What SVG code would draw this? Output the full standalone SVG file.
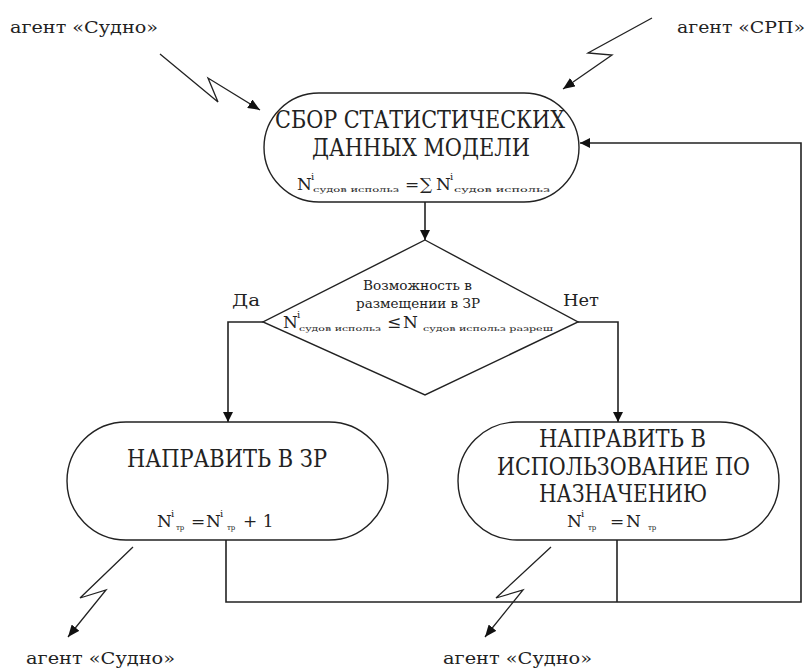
<svg xmlns="http://www.w3.org/2000/svg" width="807" height="668" viewBox="0 0 807 668">
<defs>
<marker id="ah" viewBox="0 0 10 10" refX="10" refY="5" markerWidth="10" markerHeight="10" markerUnits="userSpaceOnUse" orient="auto">
<path d="M0,0 L10,5 L0,10 z" fill="#111"/>
</marker>
<marker id="ahl" viewBox="0 0 12 10" refX="12" refY="5" markerWidth="12" markerHeight="10" markerUnits="userSpaceOnUse" orient="auto">
<path d="M0,0 L12,5 L0,10 z" fill="#111"/>
</marker>
</defs>
<style>
.shape{fill:#fff;stroke:#222;stroke-width:1.4}
.line{fill:none;stroke:#222;stroke-width:1.6}
.bolt{fill:none;stroke:#222;stroke-width:1.3}
.t{font-family:'DejaVu Serif','Liberation Serif',serif;fill:#222}
.big{font-size:24px}
.lbl{font-size:16px}
.mid{font-size:12px}
.f{font-size:17px}
.sup{font-size:10px}
.sub{font-size:7px}
</style>
<rect width="807" height="668" fill="#fff"/>

<g id="connectors">
<path class="line" d="M425,202 V240" marker-end="url(#ah)"/>
<path class="line" d="M263,322 H228 V422" marker-end="url(#ah)"/>
<path class="line" d="M578,322 H618 V422" marker-end="url(#ah)"/>
<path class="line" d="M226,540 V602 H801 V143 H580" marker-end="url(#ah)"/>
<path class="line" d="M617,540 V602"/>
<path class="bolt" d="M160,54 L218,102 L208,78 L260,110" marker-end="url(#ahl)"/>
<path class="bolt" d="M652,18 L588,53 L612,55 L563,89" marker-end="url(#ahl)"/>
<path class="bolt" d="M133,547 L80,598 L106,590 L68,637" marker-end="url(#ahl)"/>
<path class="bolt" d="M551,547 L496,598 L523,590 L485,637" marker-end="url(#ahl)"/>
</g>

<g id="node-collect">
<rect class="shape" x="264" y="93" width="315" height="109" rx="55" ry="54.5"/>
<text class="t big" x="275" y="128" textLength="290" lengthAdjust="spacingAndGlyphs">СБОР СТАТИСТИЧЕСКИХ</text>
<text class="t big" x="312" y="156" textLength="218" lengthAdjust="spacingAndGlyphs">ДАННЫХ МОДЕЛИ</text>
<text class="t f" x="297" y="190">N</text>
<text class="t sup" x="311" y="180">i</text>
<text class="t sub" x="313" y="192" textLength="86" lengthAdjust="spacingAndGlyphs">судов использ</text>
<text class="t f" x="405" y="190">=</text>
<text class="t f" x="420" y="190">∑</text>
<text class="t f" x="436" y="190">N</text>
<text class="t sup" x="450" y="180">i</text>
<text class="t sub" x="454" y="192" textLength="96" lengthAdjust="spacingAndGlyphs">судов использ</text>
</g>

<g id="node-decision">
<polygon class="shape" points="425,240 578,322 425,395 263,322"/>
<text class="t mid" x="363" y="290" textLength="109" lengthAdjust="spacingAndGlyphs">Возможность в</text>
<text class="t mid" x="356" y="308" textLength="124" lengthAdjust="spacingAndGlyphs">размещении в ЗР</text>
<text class="t f" x="283" y="328">N</text>
<text class="t sup" x="297" y="318">i</text>
<text class="t sub" x="299" y="331" textLength="82" lengthAdjust="spacingAndGlyphs">судов использ</text>
<text class="t f" x="387" y="328">≤</text>
<text class="t f" x="403" y="328">N</text>
<text class="t sub" x="423" y="331" textLength="130" lengthAdjust="spacingAndGlyphs">судов использ разреш</text>
<text class="t lbl" x="232" y="306" textLength="28" lengthAdjust="spacingAndGlyphs">Да</text>
<text class="t lbl" x="563" y="306" textLength="36" lengthAdjust="spacingAndGlyphs">Нет</text>
</g>

<g id="node-zr">
<rect class="shape" x="67" y="422" width="321" height="118" rx="59" ry="59"/>
<text class="t big" x="127" y="467" textLength="200" lengthAdjust="spacingAndGlyphs">НАПРАВИТЬ В ЗР</text>
<text class="t f" x="157" y="527">N</text>
<text class="t sup" x="171" y="517">i</text>
<text class="t sub" x="176" y="530">тр</text>
<text class="t f" x="191" y="527">=</text>
<text class="t f" x="206" y="527">N</text>
<text class="t sup" x="220" y="517">i</text>
<text class="t sub" x="227" y="530">тр</text>
<text class="t f" x="243" y="527">+ 1</text>
</g>

<g id="node-use">
<rect class="shape" x="458" y="422" width="321" height="118" rx="59" ry="59"/>
<text class="t big" x="539" y="447" textLength="167" lengthAdjust="spacingAndGlyphs">НАПРАВИТЬ В</text>
<text class="t big" x="497" y="475" textLength="253" lengthAdjust="spacingAndGlyphs">ИСПОЛЬЗОВАНИЕ ПО</text>
<text class="t big" x="539" y="502" textLength="168" lengthAdjust="spacingAndGlyphs">НАЗНАЧЕНИЮ</text>
<text class="t f" x="567" y="527">N</text>
<text class="t sup" x="581" y="517">i</text>
<text class="t sub" x="588" y="530">тр</text>
<text class="t f" x="610" y="527">=</text>
<text class="t f" x="626" y="527">N</text>
<text class="t sub" x="648" y="530">тр</text>
</g>

<g id="agent-ship-1"><text class="t lbl" x="10" y="33" textLength="148" lengthAdjust="spacingAndGlyphs">агент «Судно»</text></g>
<g id="agent-srp"><text class="t lbl" x="677" y="33" textLength="128" lengthAdjust="spacingAndGlyphs">агент «СРП»</text></g>
<g id="agent-ship-2"><text class="t lbl" x="26" y="664" textLength="149" lengthAdjust="spacingAndGlyphs">агент «Судно»</text></g>
<g id="agent-ship-3"><text class="t lbl" x="443" y="664" textLength="149" lengthAdjust="spacingAndGlyphs">агент «Судно»</text></g>
</svg>
